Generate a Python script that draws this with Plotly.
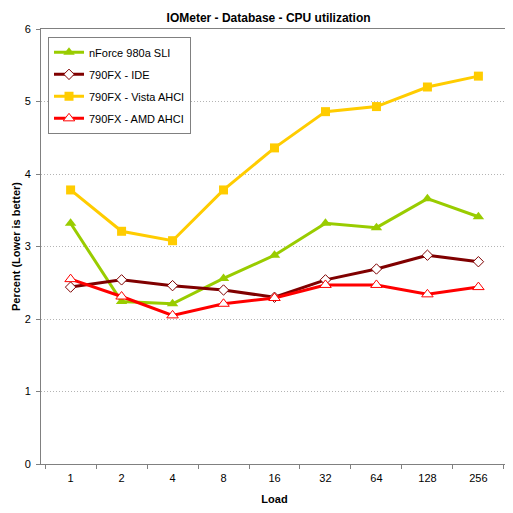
import plotly.graph_objects as go

loads = ['1', '2', '4', '8', '16', '32', '64', '128', '256']
nforce_980a = [3.32, 2.24, 2.21, 2.56, 2.88, 3.32, 3.26, 3.66, 3.41]
fx790_ide = [2.44, 2.54, 2.46, 2.40, 2.30, 2.54, 2.69, 2.88, 2.79]
fx790_vista = [3.78, 3.21, 3.08, 3.78, 4.36, 4.86, 4.93, 5.20, 5.35]
fx790_amd = [2.55, 2.31, 2.05, 2.21, 2.29, 2.47, 2.47, 2.34, 2.44]

font = 'Liberation Sans'

fig = go.Figure()
fig.add_trace(go.Scatter(x=loads, y=nforce_980a, name='nForce 980a SLI',
                         mode='lines+markers', legendgroup='a',
                         line=dict(color='#99CC00', width=3),
                         marker=dict(symbol='triangle-up', size=10, color='#99CC00')))
fig.add_trace(go.Scatter(x=loads, y=fx790_ide, name='790FX - IDE',
                         mode='lines+markers', legendgroup='b',
                         line=dict(color='#800000', width=3),
                         marker=dict(symbol='diamond', size=8, color='white',
                                     line=dict(color='#800000', width=1))))
fig.add_trace(go.Scatter(x=loads, y=fx790_vista, name='790FX - Vista AHCI',
                         mode='lines+markers', legendgroup='c',
                         line=dict(color='#FFCC00', width=3),
                         marker=dict(symbol='square', size=9, color='#FFCC00')))
fig.add_trace(go.Scatter(x=loads, y=fx790_amd, name='790FX - AMD AHCI',
                         mode='lines+markers', legendgroup='d',
                         line=dict(color='#FF0000', width=3),
                         marker=dict(symbol='triangle-up', size=10, color='white',
                                     line=dict(color='#FF0000', width=1))))

# page body adds an 8px margin, so the figure is 505 px and margins are trimmed by 8
fig.update_layout(
    width=505, height=505,
    margin=dict(l=33, r=5, t=21, b=49, autoexpand=False),
    paper_bgcolor='white', plot_bgcolor='white',
    font=dict(family=font, size=11, color='black'),
    title=dict(text='<b>IOMeter - Database - CPU utilization</b>',
               x=0.516, xanchor='center', y=0.98, yanchor='middle',
               font=dict(family=font, size=12)),
    showlegend=True,
    legend=dict(x=0.015, y=0.982, xanchor='left', yanchor='top',
                bordercolor='#808080', borderwidth=1, bgcolor='white',
                font=dict(family=font, size=11), itemwidth=30,
                traceorder='grouped', tracegroupgap=3),
)

fig.update_xaxes(type='category', title_text='<b>Load</b>',
                 title_font=dict(size=11), title_standoff=12,
                 ticklabelstandoff=4,
                 showline=True, linecolor='#808080', linewidth=1, mirror=True,
                 ticks='outside', tickson='boundaries', ticklen=4,
                 tickcolor='#808080', showgrid=False, tickfont=dict(size=11))
fig.update_yaxes(range=[0, 6], dtick=1, title_text='<b>Percent (Lower is better)</b>',
                 title_font=dict(size=11), title_standoff=1,
                 ticklabelstandoff=3,
                 showline=True, linecolor='#808080', linewidth=1, mirror=True,
                 ticks='outside', ticklen=4, tickcolor='#808080',
                 showgrid=True, gridcolor='#B4B4B4', griddash='1px,2px', gridwidth=1,
                 zeroline=False, tickfont=dict(size=11))

fig.write_html('out.html')
